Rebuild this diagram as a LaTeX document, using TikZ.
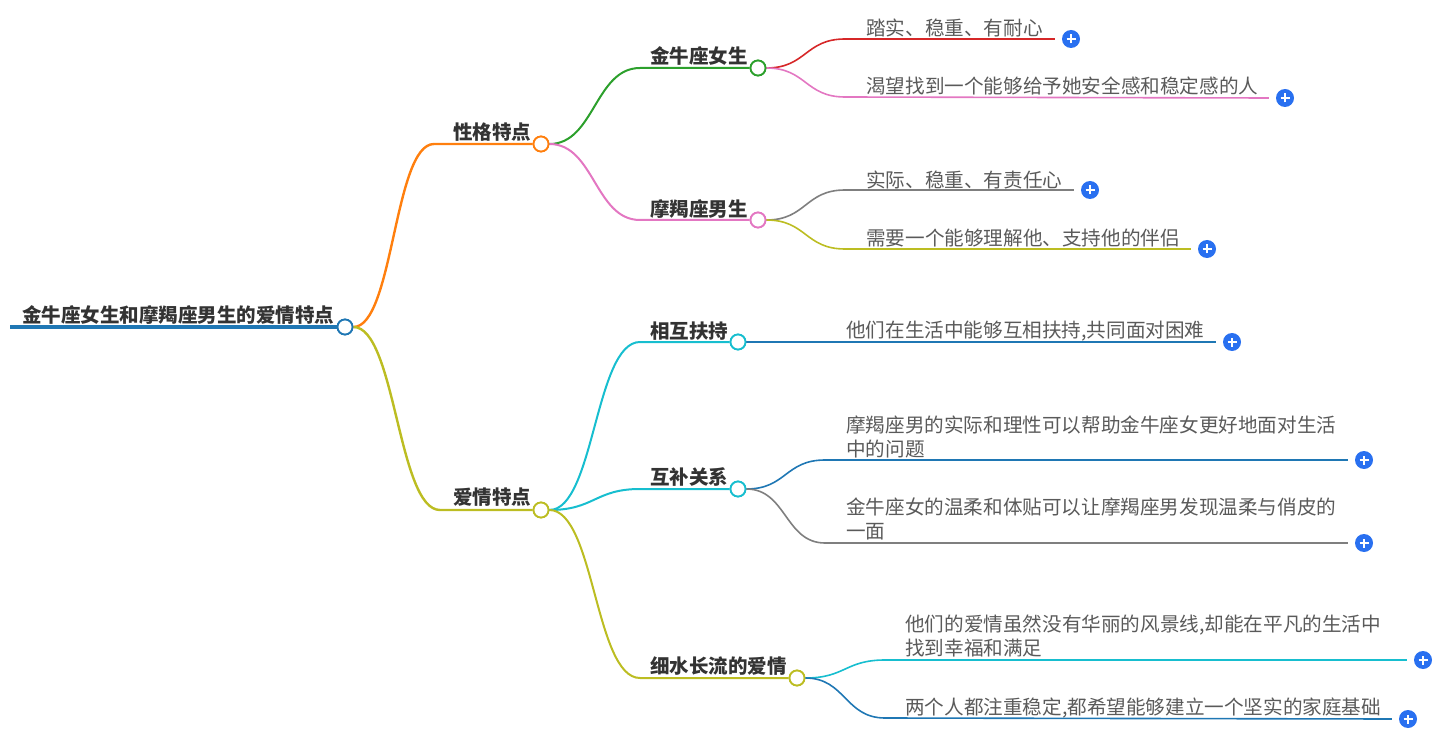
\documentclass[tikz,border=0pt]{standalone}
\usepackage{fontspec}
\newfontfamily\cjk{Noto Sans CJK SC}
\usetikzlibrary{calc}
\definecolor{cblue}{HTML}{1F77B4}
\definecolor{corange}{HTML}{FF7F0E}
\definecolor{cgreen}{HTML}{2CA02C}
\definecolor{cred}{HTML}{D62728}
\definecolor{cpink}{HTML}{E377C2}
\definecolor{cgray}{HTML}{7F7F7F}
\definecolor{colive}{HTML}{BCBD22}
\definecolor{ccyan}{HTML}{17BECF}
\definecolor{plusblue}{HTML}{2970F0}
\definecolor{tdark}{HTML}{333333}
\definecolor{tleaf}{HTML}{5A5A5A}
\tikzset{
  boldtxt/.style={font=\cjk\bfseries\fontsize{19.5}{24}\selectfont, text=tdark, inner sep=0pt, anchor=west},
  leaftxt/.style={font=\cjk\fontsize{19.6}{24}\selectfont, text=tleaf, inner sep=0pt, anchor=west, align=left},
  dot/.style={circle, draw=#1, fill=white, minimum size=15pt, inner sep=0pt, line width=1.8pt},
  plusicon/.style={circle, fill=plusblue, minimum size=18pt, inner sep=0pt,
    path picture={\draw[white, line width=1.8pt]
      ([xshift=-4.5pt]path picture bounding box.center) -- ([xshift=4.5pt]path picture bounding box.center)
      ([yshift=-4.5pt]path picture bounding box.center) -- ([yshift=4.5pt]path picture bounding box.center);}},
  lvone/.style={line width=2.4pt},
  lvtwo/.style={line width=2pt},
  lvthree/.style={line width=1.6pt},
}
% curve from node #2 east to bend coordinate #3, then straight to #4
\newcommand\mmcurve[5]{%
  \draw[#1] (#2.east) .. controls +(#5,0) and +(-#5,0) .. (#3) -- (#4);}
\begin{document}
\begin{tikzpicture}[x=1pt,y=-1pt]
\useasboundingbox (0,0) rectangle (1445,735);

% ---------- nodes ----------
\node[boldtxt] (root) at (22,315) {金牛座女生和摩羯座男生的爱情特点};
\node[dot=cblue] (rootdot) at (345,327) {};
\coordinate (rs) at (10,327);

\node[boldtxt] (xg) at (453,132) {性格特点};
\node[dot=corange] (xgdot) at (541,144) {};
\node[boldtxt] (aq) at (453,497) {爱情特点};
\node[dot=colive] (aqdot) at (541,510) {};

\node[boldtxt] (jn) at (650,56) {金牛座女生};
\node[dot=cgreen] (jndot) at (758,68) {};
\node[boldtxt] (mj) at (650,209) {摩羯座男生};
\node[dot=cpink] (mjdot) at (758,220) {};
\node[boldtxt] (xh) at (650,331) {相互扶持};
\node[dot=ccyan] (xhdot) at (738,342) {};
\node[boldtxt] (hb) at (650,477) {互补关系};
\node[dot=ccyan] (hbdot) at (738,489) {};
\node[boldtxt] (xs) at (650,666) {细水长流的爱情};
\node[dot=colive] (xsdot) at (797,678) {};

\node[leaftxt] (l1) at (866,28) {踏实、稳重、有耐心};
\node[plusicon] (p1) at (1071,39) {};
\node[leaftxt] (l2) at (866,86) {渴望找到一个能够给予她安全感和稳定感的人};
\node[plusicon] (p2) at (1285,98) {};
\node[leaftxt] (l3) at (866,180) {实际、稳重、有责任心};
\node[plusicon] (p3) at (1090,190) {};
\node[leaftxt] (l4) at (866,238) {需要一个能够理解他、支持他的伴侣};
\node[plusicon] (p4) at (1207,249) {};
\node[leaftxt] (l5) at (846,331) {他们在生活中能够互相扶持,共同面对困难};
\node[plusicon] (p5) at (1232,342) {};
\node[leaftxt] (l6) at (846,437) {摩羯座男的实际和理性可以帮助金牛座女更好地面对生活\\中的问题};
\node[plusicon] (p6) at (1364,460) {};
\node[leaftxt] (l7) at (846,519) {金牛座女的温柔和体贴可以让摩羯座男发现温柔与俏皮的\\一面};
\node[plusicon] (p7) at (1364,543) {};
\node[leaftxt] (l8) at (905,636) {他们的爱情虽然没有华丽的风景线,却能在平凡的生活中\\找到幸福和满足};
\node[plusicon] (p8) at (1423,660) {};
\node[leaftxt] (l9) at (905,708) {两个人都注重稳定,都希望能够建立一个坚实的家庭基础};
\node[plusicon] (p9) at (1408,719) {};

% bend coordinates
\coordinate (bxg) at (434,144);
\coordinate (baq) at (440,510);
\coordinate (bjn) at (640,68);
\coordinate (bmj) at (640,220);
\coordinate (bxh) at (640,342);
\coordinate (bhb) at (640,489);
\coordinate (bxs) at (640,678);
\coordinate (b1) at (845,39);
\coordinate (b2) at (845,97);
\coordinate (b3) at (845,190);
\coordinate (b4) at (845,249);
\coordinate (b6) at (825,460);
\coordinate (b7) at (825,543);
\coordinate (b8) at (885,660);
\coordinate (b9) at (885,718);

% ---------- connectors ----------
\draw[cblue, line width=4pt] (rs) -- (rootdot.west);

\mmcurve{corange, lvone}{rootdot}{bxg}{xgdot.west}{40}
\mmcurve{colive, lvone}{rootdot}{baq}{aqdot.west}{42}

\mmcurve{cgreen, lvtwo}{xgdot}{bjn}{jndot.west}{45}
\mmcurve{cpink, lvtwo}{xgdot}{bmj}{mjdot.west}{45}
\mmcurve{ccyan, lvtwo}{aqdot}{bxh}{xhdot.west}{45}
\mmcurve{ccyan, lvtwo}{aqdot}{bhb}{hbdot.west}{45}
\mmcurve{colive, lvtwo}{aqdot}{bxs}{xsdot.west}{45}

\mmcurve{cred, lvthree}{jndot}{b1}{[xshift=-7pt]p1.west}{40}
\mmcurve{cpink, lvthree}{jndot}{b2}{[xshift=-7pt]p2.west}{40}
\mmcurve{cgray, lvthree}{mjdot}{b3}{[xshift=-7pt]p3.west}{40}
\mmcurve{colive, lvthree}{mjdot}{b4}{[xshift=-7pt]p4.west}{40}
\draw[cblue, lvthree] (xhdot.east) -- ([xshift=-7pt]p5.west);
\mmcurve{cblue, lvthree}{hbdot}{b6}{[xshift=-7pt]p6.west}{40}
\mmcurve{cgray, lvthree}{hbdot}{b7}{[xshift=-7pt]p7.west}{40}
\mmcurve{ccyan, lvthree}{xsdot}{b8}{[xshift=-7pt]p8.west}{40}
\mmcurve{cblue, lvthree}{xsdot}{b9}{[xshift=-7pt]p9.west}{40}

% redraw dots on top of the connectors
\node[dot=cblue] at (rootdot) {};
\node[dot=corange] at (xgdot) {};
\node[dot=colive] at (aqdot) {};
\node[dot=cgreen] at (jndot) {};
\node[dot=cpink] at (mjdot) {};
\node[dot=ccyan] at (xhdot) {};
\node[dot=ccyan] at (hbdot) {};
\node[dot=colive] at (xsdot) {};
\end{tikzpicture}
\end{document}
